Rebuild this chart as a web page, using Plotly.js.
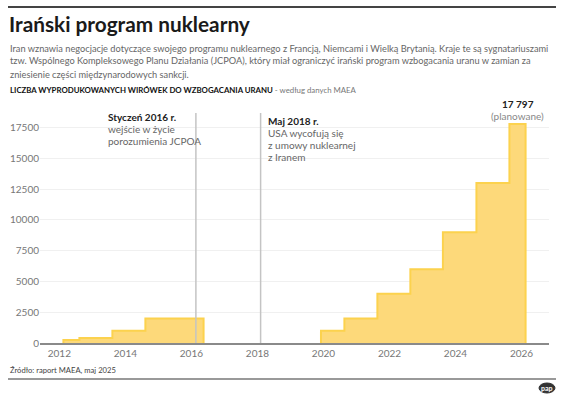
<!DOCTYPE html>
<html><head><meta charset="utf-8">
<script src="https://cdn.plot.ly/plotly-3.0.1.min.js"></script>
<style>html,body{margin:0;padding:0;background:#fff}#c{width:564px;height:397px}</style>
</head><body><div id="c"></div>
<script>
// Period 1 (before JCPOA)
const startsA = ['2012-02-15','2012-08-10','2013-08-10','2014-08-10'];
const valuesA = [250, 400, 1000, 2000];
const endA = '2016-05-15';
// Period 2 (after US withdrawal)
const startsB = ['2019-12-05','2020-08-20','2021-08-20','2022-08-20','2023-08-15','2024-08-20','2025-08-20'];
const valuesB = [1000, 2000, 4000, 6000, 9000, 13000, 17797];
const endB = '2026-02-15';
const eventDates = ['2016-02-20','2018-02-05'];
const yTicks = [0,2500,5000,7500,10000,12500,15000,17500];

const title = 'Irański program nuklearny';
const sub1 = 'Iran wznawia negocjacje dotyczące swojego programu nuklearnego z Francją, Niemcami i Wielką Brytanią. Kraje te są sygnatariuszami';
const sub2 = 'tzw. Wspólnego Kompleksowego Planu Działania (JCPOA), który miał ograniczyć irański program wzbogacania uranu w zamian za';
const sub3 = 'zniesienie części międzynarodowych sankcji.';
const head1 = 'LICZBA WYPRODUKOWANYCH WIRÓWEK DO WZBOGACANIA URANU';
const head2 = '- według danych MAEA';
const source = 'Źródło: raport MAEA, maj 2025';

function stepTrace(starts, vals, end){
  const x=[starts[0]], y=[0];
  starts.forEach((s,i)=>{x.push(s); y.push(vals[i]);});
  x.push(end); y.push(vals[vals.length-1]);
  x.push(end); y.push(0);
  return {x:x,y:y,type:'scatter',mode:'lines',line:{shape:'hv',color:'#FCD24E',width:2},
    fill:'tozeroy',fillcolor:'rgba(253,215,115,0.95)',hoverinfo:'skip',showlegend:false};
}

const FAM='Lato';
const F='Lato, "Noto Sans", sans-serif';
const cv=document.createElement('canvas').getContext('2d');
function fit(t,target,bold){cv.font=(bold?'bold ':'')+'100px '+FAM;return 100*target/cv.measureText(t).width;}

const L=40,R=549,T=115,B=343;
const px=v=>(v-L)/(R-L), py=v=>(B-v)/(B-T);
function txt(t,x,y,o){o=o||{};return {text:t,xref:'paper',yref:'paper',x:px(x),y:py(y),xanchor:o.xa||'left',yanchor:'middle',showarrow:false,
  font:{family:F,size:o.s||10.5,color:o.c||'#666'}};}

const sTitle=fit(title,241,true);
const sSub=fit(sub1,539,false);
const sHead=fit(head1,264,true);
const sSrc=fit(source,106,false);

const ann=[
  txt('<b>'+title+'</b>',7,23,{s:sTitle,c:'#1a1a1a'}),
  txt(sub1,8,48,{s:sSub}),
  txt(sub2,8,61,{s:sSub}),
  txt(sub3,8,74,{s:sSub}),
  txt('<b>'+head1+'</b> <span style="color:#777">'+head2+'</span>',8,90,{s:sHead,c:'#111'}),
  txt('<b>17 797</b>',518,104,{s:10,c:'#222',xa:'center'}),
  txt('(planowane)',517,116,{s:10,c:'#888',xa:'center'}),
  txt('<b>Styczeń 2016 r.</b>',106,117,{s:10,c:'#222'}),
  txt('wejście w życie',106,129,{s:10}),
  txt('porozumienia JCPOA',106,141,{s:10}),
  txt('<b>Maj 2018 r.</b>',266,121,{s:10,c:'#222'}),
  txt('USA wycofują się',266,133,{s:10}),
  txt('z umowy nuklearnej',266,145,{s:10}),
  txt('z Iranem',266,157,{s:10}),
  txt(source,8,370,{s:sSrc,c:'#444'}),
  txt('<b>pap</b>',547,388,{s:7,c:'#fff',xa:'center'})
];

const shapes=[
  {type:'line',xref:'paper',yref:'paper',x0:px(8),x1:px(556),y0:py(7),y1:py(7),line:{color:'#444',width:2}},
  {type:'line',xref:'paper',yref:'paper',x0:px(8),x1:px(556),y0:py(379),y1:py(379),line:{color:'#777',width:1.5}},
  {type:'circle',xref:'paper',yref:'paper',x0:px(539),x1:px(555),y0:py(383),y1:py(393),fillcolor:'#333',line:{color:'#333',width:1}}
];
eventDates.forEach(d=>shapes.push({type:'line',xref:'x',yref:'paper',x0:d,x1:d,y0:0,y1:py(113),line:{color:'#c4c4c4',width:1.5},layer:'above'}));

const layout={width:564,height:397,margin:{l:L,r:564-R,t:T,b:397-B},paper_bgcolor:'#fff',plot_bgcolor:'#fff',
  font:{family:F},showlegend:false,
  xaxis:{type:'date',range:['2011-06-01','2026-11-01'],tick0:'2012-01-01',dtick:'M24',tickformat:'%Y',showgrid:false,
    showline:true,linecolor:'#8a8a8a',linewidth:2,ticks:'',tickfont:{size:10,color:'#777',family:F},zeroline:false,fixedrange:true},
  yaxis:{range:[0,18520],tickvals:yTicks,ticktext:yTicks.map(String),showgrid:true,gridcolor:'#f0f0f0',gridwidth:1,zeroline:false,
    showline:false,ticks:'',tickfont:{size:10,color:'#777',family:F},fixedrange:true},
  annotations:ann,shapes:shapes};
Plotly.newPlot('c',[stepTrace(startsA,valuesA,endA),stepTrace(startsB,valuesB,endB)],layout,{staticPlot:true});
</script></body></html>
